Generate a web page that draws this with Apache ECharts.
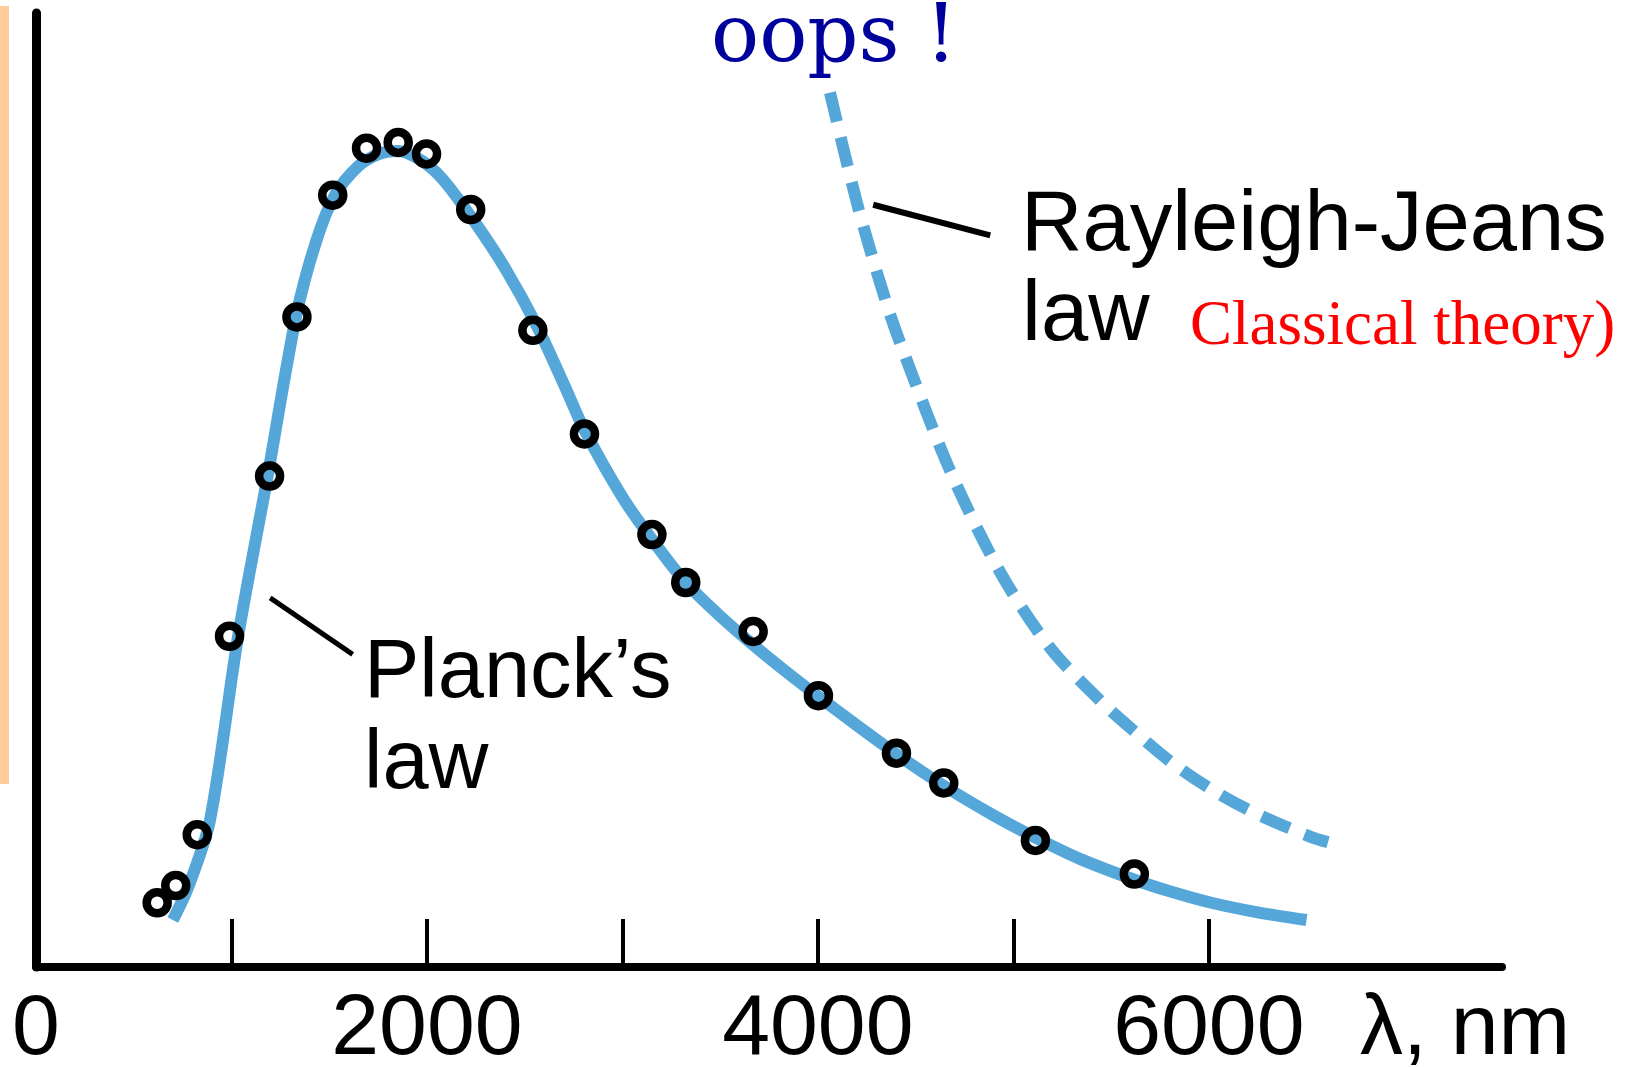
<!DOCTYPE html>
<html><head><meta charset="utf-8">
<script src="https://cdn.jsdelivr.net/npm/echarts@6/dist/echarts.min.js"></script>
<style>html,body{margin:0;padding:0;background:#fff}#c{width:1651px;height:1067px}</style>
</head><body><div id="c"></div>
<script>
// ---- data (wavelength in nm, intensity in arbitrary units) ----
const xTickValues = [1000, 2000, 3000, 4000, 5000, 6000];
const xLabelValues = [0, 2000, 4000, 6000];
const xAxisName = 'λ, nm';

const planckX = [700, 778, 890, 1034, 1185, 1330, 1432, 1529, 1648, 1756, 1853, 1972, 2079, 2241, 2402, 2564, 2700, 2806, 3000, 3151, 3324, 3500, 3669, 3850, 4003, 4200, 4402, 4644, 4900, 5113, 5350, 5619, 5800, 6013, 6250, 6500];
const planckY = [4.9, 8.3, 15.3, 34.5, 51.2, 67.8, 75.6, 80.5, 83.5, 84.8, 85.1, 84.1, 82.2, 77.8, 72.8, 66.8, 60.8, 56.0, 49.0, 44.6, 40.1, 36.6, 33.6, 30.6, 28.2, 25.2, 22.2, 18.9, 15.8, 13.5, 11.2, 9.1, 7.9, 6.7, 5.7, 4.9];

const rjX = [4062, 4205, 4348, 4430, 4676, 4932, 5188, 5443, 5612, 5812, 6032, 6252, 6518, 6610];
const rjY = [91.2, 79.3, 69.4, 64.6, 51.8, 41.2, 33.3, 27.8, 24.7, 21.3, 18.3, 15.9, 13.6, 13.0];

const measX = [620, 715, 825, 990, 1195, 1335, 1518, 1691, 1853, 1998, 2224, 2542, 2806, 3151, 3324, 3669, 4003, 4402, 4644, 5113, 5619];
const measY = [6.7, 8.5, 13.8, 34.5, 51.2, 67.8, 80.5, 85.4, 86.0, 84.8, 79.0, 66.4, 55.6, 45.1, 40.1, 35.0, 28.3, 22.3, 19.2, 13.2, 9.7];

const planckPointerX = [1198, 1620];
const planckPointerY = [38.5, 32.6];
const rjPointerX = [4283, 4882];
const rjPointerY = [79.5, 76.3];

const labels = {
  oops: 'oops !',
  rj1: 'Rayleigh-Jeans',
  rj2: 'law',
  classical: 'Classical theory)',
  planck1: 'Planck’s',
  planck2: 'law'
};

// ---- chart ----
const zip = (a, b) => a.map((v, i) => [v, b[i]]);
const BLUE = '#55a7d9';
const chart = echarts.init(document.getElementById('c'), null, {renderer: 'canvas'});

chart.setOption({
  backgroundColor: '#ffffff',
  animation: false,
  grid: {left: 36, right: 149, top: 13, bottom: 100, outerBoundsMode: 'none', containLabel: false},
  xAxis: {
    type: 'value', min: 0, max: 7500, interval: 1000,
    name: xAxisName, nameLocation: 'end', nameGap: -142,
    nameTextStyle: {fontFamily: 'Liberation Sans', fontSize: 86, color: '#000', align: 'left', verticalAlign: 'top', padding: [20, 0, 0, 0]},
    axisLine: {show: true, onZero: false, lineStyle: {color: '#000', width: 8}},
    axisTick: {show: true, inside: true, length: 48, customValues: xTickValues, lineStyle: {color: '#000', width: 4}},
    axisLabel: {show: true, customValues: xLabelValues, margin: 20, fontFamily: 'Liberation Sans', fontSize: 86, color: '#000',
      formatter: v => String(v)},
    splitLine: {show: false}
  },
  yAxis: {
    type: 'value', min: 0, max: 99.5,
    axisLine: {show: true, onZero: false, lineStyle: {color: '#000', width: 9}},
    axisTick: {show: false}, axisLabel: {show: false}, splitLine: {show: false}
  },
  series: [
    {
      name: 'Planck', type: 'line', data: zip(planckX, planckY), smooth: 0.3,
      showSymbol: false, lineStyle: {color: BLUE, width: 12, cap: 'butt'}, z: 2, silent: true
    },
    {
      name: 'Rayleigh-Jeans', type: 'line', data: zip(rjX, rjY), smooth: 0.3,
      showSymbol: false, lineStyle: {color: BLUE, width: 12, type: [30, 16], cap: 'butt'}, z: 2, silent: true
    },
    {
      name: 'pointerPlanck', type: 'line', data: zip(planckPointerX, planckPointerY),
      showSymbol: false, lineStyle: {color: '#000', width: 5}, z: 3, silent: true
    },
    {
      name: 'pointerRJ', type: 'line', data: zip(rjPointerX, rjPointerY),
      showSymbol: false, lineStyle: {color: '#000', width: 6}, z: 3, silent: true
    },
    {
      name: 'measured', type: 'scatter', data: zip(measX, measY), symbol: 'circle', symbolSize: 21,
      itemStyle: {color: 'rgba(0,0,0,0)', borderColor: '#000', borderWidth: 8.5, opacity: 1}, z: 5, silent: true
    }
  ],
  graphic: [
    {type: 'rect', left: 0, top: 6, shape: {width: 9, height: 778}, style: {fill: '#ffcc99'}, silent: true},
    {type: 'text', x: 711, y: 40, style: {text: labels.oops, fontFamily: 'DejaVu Serif', fontSize: 80, fill: '#00009c', verticalAlign: 'middle', align: 'left'}},
    {type: 'text', x: 1021, y: 227, style: {text: labels.rj1, fontFamily: 'Liberation Sans', fontSize: 85, fill: '#000', verticalAlign: 'middle', align: 'left'}},
    {type: 'text', x: 1022, y: 317, style: {text: labels.rj2, fontFamily: 'Liberation Sans', fontSize: 85, fill: '#000', verticalAlign: 'middle', align: 'left'}},
    {type: 'text', x: 1190, y: 327, style: {text: labels.classical, fontFamily: 'Liberation Serif', fontSize: 63, fill: '#ff0000', verticalAlign: 'middle', align: 'left'}},
    {type: 'text', x: 364, y: 674, style: {text: labels.planck1, fontFamily: 'Liberation Sans', fontSize: 83, fill: '#000', verticalAlign: 'middle', align: 'left'}},
    {type: 'text', x: 364, y: 765, style: {text: labels.planck2, fontFamily: 'Liberation Sans', fontSize: 83, fill: '#000', verticalAlign: 'middle', align: 'left'}}
  ]
});
</script>
</body></html>
